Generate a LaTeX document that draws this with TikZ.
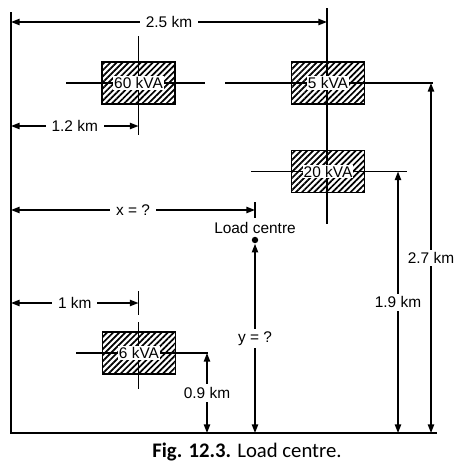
\documentclass[tikz,border=0pt]{standalone}
\usepackage{fontspec}
\setmainfont{Liberation Sans}
\newfontfamily\capfont{Carlito}
\usetikzlibrary{arrows.meta,patterns.meta,calc,positioning}

\begin{document}
\begin{tikzpicture}[x=0.7pt,y=-0.7pt,line width=0.9pt,>={Triangle[length=6pt,width=4.4pt]},node distance=1pt,
  every node/.style={font=\fontsize{10.8}{13}\selectfont}]
 \tikzstyle{load}=[draw, line width=1.2pt, pattern={Lines[angle=45,distance=3pt,line width=1.2pt]}, minimum width=51pt, minimum height=29.5pt, inner sep=0pt]
 \tikzstyle{rating}=[fill=white, inner sep=0.6pt]
 \tikzstyle{dim}=[fill=white, inner xsep=4pt, inner ysep=2pt]
 \useasboundingbox (0,0) rectangle (456,470);

 % frame
 \coordinate (top) at (11,12);
 \coordinate (O) at (11,433);
 \coordinate (end) at (437,433);
 \draw (top) -- (O) -- (end);

 % crosshair ends
 \coordinate (A1) at (66,83);   \coordinate (A2) at (205,83);
 \coordinate (A3) at (138.5,36); \coordinate (A4) at (138.5,135);
 \coordinate (B1) at (225,83);  \coordinate (B2) at (433,83);
 \coordinate (B3) at (327,8);   \coordinate (B4) at (327,224);
 \coordinate (C1) at (251,171.5); \coordinate (C2) at (407,171.5);
 \coordinate (D1) at (76,353);  \coordinate (D2) at (208,353);
 \coordinate (D3) at (138.5,322); \coordinate (D4) at (138.5,389);
 \path (A1) edge (A2) (A3) edge (A4)
       (B1) edge (B2) (B3) edge (B4)
       (C1) edge (C2)
       (D1) edge (D2) (D3) edge (D4);

 % loads
 \node[load] (L60) at (138.5,83) {};
 \node[load] (L5)  at (328,83) {};
 \node[load] (L20) at (328,171.5) {};
 \node[load] (L6)  at (139,353) {};
 \node[rating] at (L60) {60 kVA};
 \node[rating] at (L5)  {5 kVA};
 \node[rating] at (L20) {20 kVA};
 \node[rating] at (L6)  {6 kVA};

 % load centre
 \node[circle, fill, inner sep=0pt, minimum size=4.5pt] (lc) at (255,240) {};
 \node[above=0pt of lc, inner sep=1.5pt] (lctext) {Load centre};

 % horizontal distances
 \coordinate (h1) at (11,22);   \coordinate (h1e) at (327,22);
 \coordinate (h2) at (11,126);  \coordinate (h2e) at (138.5,126);
 \coordinate (h3) at (11,210);  \coordinate (h3e) at (255,210);
 \coordinate (h4) at (11,303);  \coordinate (h4e) at (138.5,303);
 \draw[<->] (h1) -- node[dim] {2.5 km} (h1e);
 \draw[<->] (h2) -- node[dim] {1.2 km} (h2e);
 \draw[<->] (h3) -- node[dim] {x = ?} (h3e);
 \draw[<->] (h4) -- node[dim] {1 km} (h4e);
 \draw ($(h3e)+(0,-8)$) -- ($(h3e)+(0,8)$);
 \draw ($(h4e)+(0,-12)$) -- ($(h4e)+(0,12)$);

 % vertical distances
 \coordinate (v1) at (431,433); \coordinate (v1e) at (431,83);
 \coordinate (v2) at (398,433); \coordinate (v2e) at (398,171.5);
 \coordinate (v3) at (207,433); \coordinate (v3e) at (207,353);
 \coordinate (v4) at (255,433);
 \draw[<->] (v1) -- node[dim, inner xsep=1pt] {2.7 km} (v1e);
 \draw[<->] (v2) -- node[dim, inner xsep=1pt] {1.9 km} (v2e);
 \draw[<->] (v3) -- node[dim, inner xsep=1pt] {0.9 km} (v3e);
 \draw[<->] (v4) -- node[dim, inner xsep=1pt] {y = ?} (lc.south);

 \node[font=\capfont\fontsize{14.5}{17}\selectfont] (cap) at (247,452) {\textbf{Fig. 12.3.} Load centre.};
\end{tikzpicture}
\end{document}
